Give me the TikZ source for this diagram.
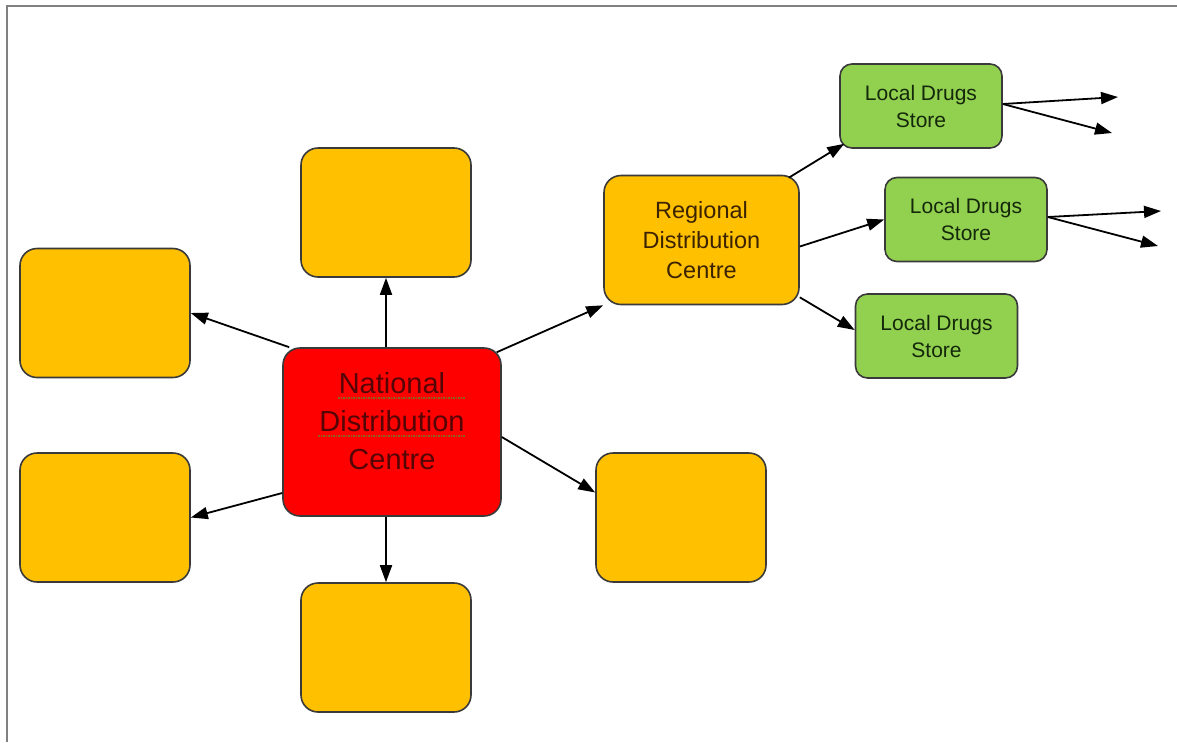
\documentclass[tikz,border=0pt]{standalone}
\usepackage{fontspec}
\setmainfont{Liberation Sans}
\usetikzlibrary{arrows.meta}
\definecolor{ambre}{HTML}{FFC000}
\definecolor{leaf}{HTML}{92D050}
\definecolor{signal}{HTML}{FF0000}
\definecolor{edge}{HTML}{3A3A3A}
\definecolor{squiggle}{HTML}{8A6420}
\tikzset{
  box/.style={draw=edge, line width=1.6pt, rounded corners=17pt, inner sep=0pt, align=center},
  hub/.style={box, fill=signal, minimum width=218pt, minimum height=168pt,
    font=\fontsize{29}{38}\selectfont, text={rgb,255:red,85;green,5;blue,5}},
  depot/.style={box, fill=ambre, minimum width=170pt, minimum height=129pt},
  regional/.style={box, fill=ambre, minimum width=195pt, minimum height=129pt,
    font=\fontsize{23.5}{30}\selectfont, text={rgb,255:red,60;green,35;blue,0}},
  shop/.style={box, fill=leaf, rounded corners=12pt, minimum width=162pt, minimum height=84pt,
    font=\fontsize{21}{27}\selectfont, text={rgb,255:red,20;green,40;blue,10}},
  link/.style={-{Triangle[length=17pt,width=12pt]}, line width=1.8pt, black},
  frameline/.style={draw={rgb,255:red,128;green,128;blue,128}, line width=2pt},
  spellmark/.style={draw=squiggle, line width=1.3pt, dash pattern=on 1.5pt off 1pt}
}
\begin{document}
\begin{tikzpicture}[x=1pt, y=-1pt]
  \useasboundingbox (0,0) rectangle (1177,742);
  \fill[white] (0,0) rectangle (1177,742);
  \draw[frameline] (7,742) -- (7,6) -- (1177,6);

  % central hub and its surrounding depots
  \node[hub] (nat) at (392,432) {\raisebox{8pt}[\height][\depth]{\begin{tabular}{@{}c@{}}National\\Distribution\\Centre\end{tabular}}};
  \node[depot] (top) at (386,212.5) {};
  \node[depot] (lu) at (105,313) {};
  \node[depot] (ll) at (105,517.5) {};
  \node[depot] (bot) at (386,647.5) {};
  \node[depot] (rl) at (681,517.5) {};

  % spell-check marks under the first two words
  \draw[spellmark] (338,398) -- (465,398);
  \draw[spellmark] (318,436) -- (465,436);

  % regional branch
  \node[regional] (reg) at (701.5,240) {Regional\\Distribution\\Centre};
  \node[shop] (l1) at (921,106) {Local Drugs\\Store};
  \node[shop] (l2) at (966,219.5) {Local Drugs\\Store};
  \node[shop] (l3) at (936.5,336) {Local Drugs\\Store};

  % loose ends of the outgoing supply lines
  \coordinate (o1a) at (1118,97);
  \coordinate (o1b) at (1112,133);
  \coordinate (o2a) at (1161,211);
  \coordinate (o2b) at (1158,246);

  % hub to depots
  \draw[link] (top.south |- nat.north) -- (top.south);
  \draw[link] (bot.north |- nat.south) -- (bot.north);
  \draw[link] ([xshift=7pt]nat.north west) -- (lu.east);
  \draw[link] ([yshift=-61pt]nat.west) -- (ll.east);
  \draw[link] ([yshift=-5pt]nat.east) -- ([yshift=25pt]rl.west);
  \draw[link] ([xshift=-5pt,yshift=-5pt]nat.north east) -- (reg.south west);

  % regional centre to stores
  \draw[link] ([xshift=-11pt,yshift=-3pt]reg.north east) -- ([xshift=5pt,yshift=5pt]l1.south west);
  \draw[link] ([yshift=-6.5pt]reg.east) -- (l2.west);
  \draw[link] ([yshift=8pt]reg.south east) -- ([yshift=6pt]l3.west);

  % stores onward
  \draw[link] ([yshift=2pt]l1.east) -- (o1a);
  \draw[link] ([yshift=2pt]l1.east) -- (o1b);
  \draw[link] ([yshift=2.5pt]l2.east) -- (o2a);
  \draw[link] ([yshift=2.5pt]l2.east) -- (o2b);
\end{tikzpicture}
\end{document}
